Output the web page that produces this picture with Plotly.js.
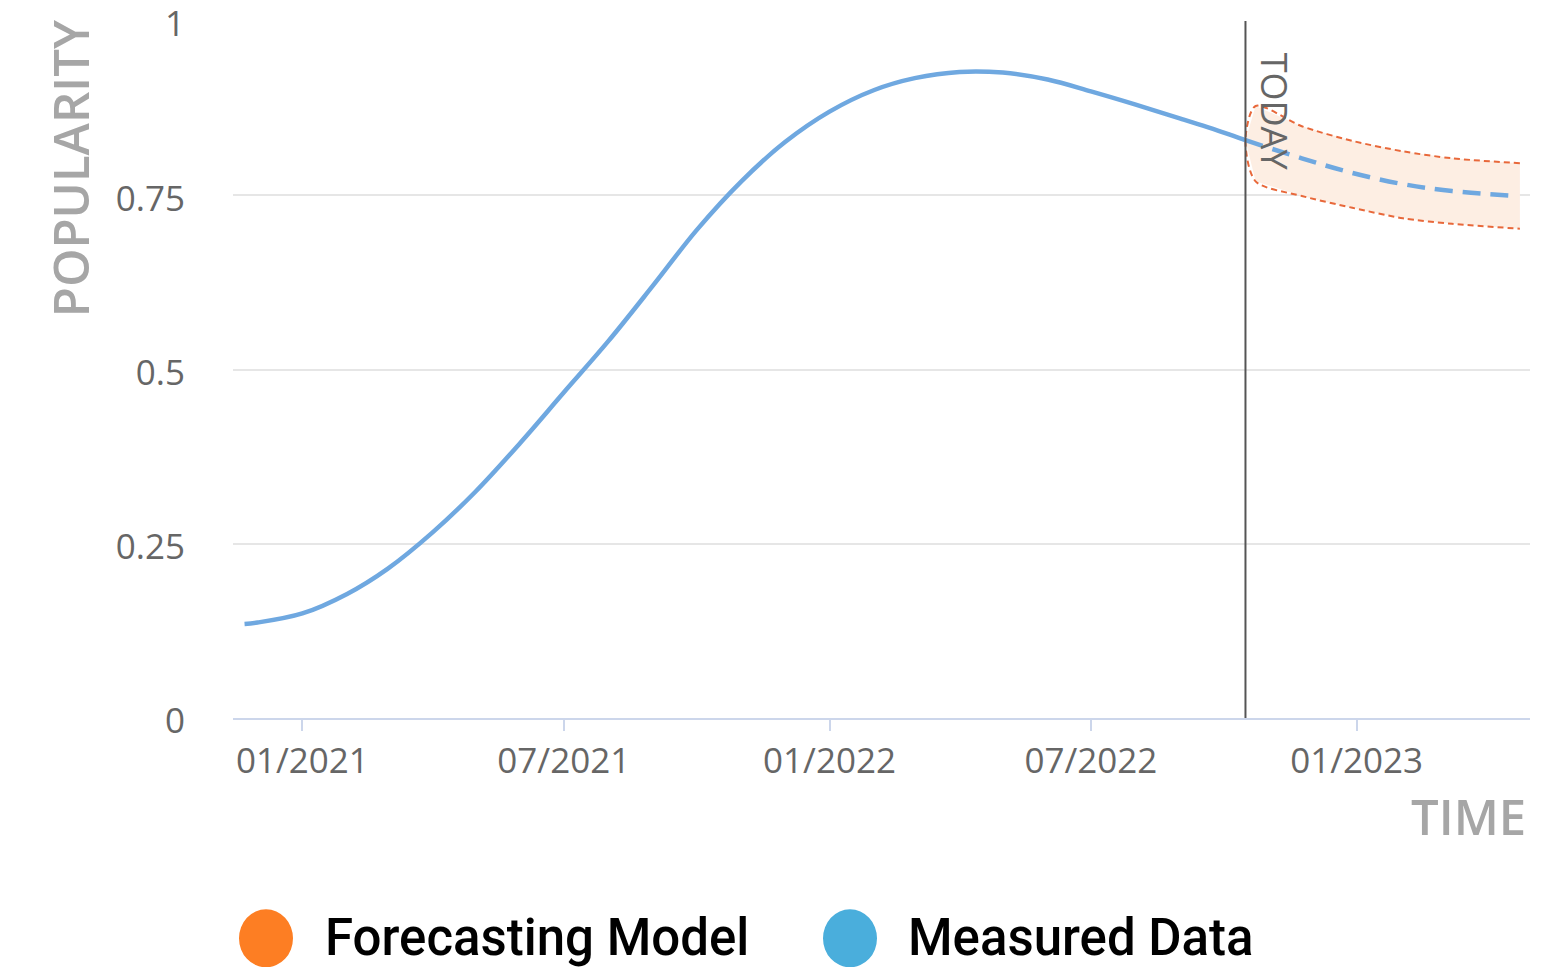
<!DOCTYPE html>
<html>
<head>
<meta charset="utf-8">
<script src="https://cdn.plot.ly/plotly-3.0.1.min.js"></script>
<style>html,body{margin:0;padding:0;background:#fff;}#chart{width:1563px;height:967px;}</style>
</head>
<body>
<div id="chart"></div>
<script>
// Measured data
const measuredDates = ['2020-11-22','2020-12-01','2021-01-01','2021-02-01','2021-03-01','2021-04-01','2021-05-01','2021-06-01','2021-07-01','2021-08-01','2021-09-01','2021-10-01','2021-11-01','2021-12-01','2022-01-01','2022-02-01','2022-03-01','2022-04-01','2022-05-01','2022-06-01','2022-07-01','2022-08-01','2022-09-01','2022-10-01','2022-10-16'];
const measuredValues = [0.135,0.137,0.150,0.178,0.214,0.266,0.325,0.395,0.467,0.541,0.621,0.700,0.770,0.826,0.870,0.901,0.918,0.927,0.926,0.916,0.899,0.880,0.860,0.840,0.829];

// Forecast
const forecastDates = ['2022-10-16','2022-11-24','2022-12-29','2023-02-02','2023-03-08','2023-04-22'];
const forecastValues = [0.829,0.803,0.782,0.766,0.756,0.749];
const bandDates = ['2022-10-23','2022-11-24','2022-12-29','2023-02-02','2023-03-08','2023-04-24'];
const bandUpper = [0.878,0.849,0.828,0.813,0.803,0.796];
const bandLower = [0.770,0.749,0.732,0.717,0.709,0.702];
const todayDate = '2022-10-16';

const tickVals = ['2021-01-01','2021-07-01','2022-01-01','2022-07-01','2023-01-01'];
const tickText = ['01/2021','07/2021','01/2022','07/2022','01/2023'];
const yTickVals = [0,0.25,0.5,0.75,1];
const yTickText = ['0','0.25','0.5','0.75','1'];

const legendNames = ['Forecasting Model','Measured Data'];
const legendColors = ['#fd7e23','#4aaedc'];

// band polygon (fill) and outline
const fillX = [todayDate].concat(bandDates, bandDates.slice().reverse());
const fillY = [forecastValues[0]].concat(bandUpper, bandLower.slice().reverse());
const outlineX = bandDates.slice().reverse().concat([todayDate], bandDates);
const outlineY = bandUpper.slice().reverse().concat([forecastValues[0]], bandLower);

const traces = [
  {x: fillX, y: fillY, type:'scatter', mode:'lines', fill:'toself', fillcolor:'#fdeee3', line:{width:0}, hoverinfo:'skip', showlegend:false},
  {x: outlineX, y: outlineY, type:'scatter', mode:'lines', line:{color:'#e8683a', width:2, dash:'6px,4px', shape:'spline', smoothing:0.8}, showlegend:false},
  {x: measuredDates, y: measuredValues, type:'scatter', mode:'lines', line:{color:'#6fa8e0', width:4.5, shape:'spline'}, showlegend:false},
  {x: forecastDates, y: forecastValues, type:'scatter', mode:'lines', line:{color:'#6fa8e0', width:4.5, dash:'18px,10px', shape:'spline'}, showlegend:false}
];

const W = 1297, L = 233, B = 718;
const H = 697;
function px(x){ return (x - L)/W; }
function py(y){ return (B - y)/H; }

const layout = {
  width:1563, height:967,
  margin:{l:233, r:33, t:20, b:249},
  paper_bgcolor:'#fff', plot_bgcolor:'#fff',
  showlegend:false,
  font:{family:'Open Sans, sans-serif', color:'#666'},
  xaxis:{
    type:'date', range:['2020-11-14','2023-05-01'],
    tickvals: tickVals, ticktext: tickText,
    showgrid:false, zeroline:false,
    showline:true, linecolor:'#ccd6eb', linewidth:2,
    ticks:'outside', ticklen:11, tickwidth:2, tickcolor:'#ccd6eb',
    tickfont:{size:35, color:'#666'}
  },
  yaxis:{
    range:[0,1.00143], tickvals:yTickVals, ticktext:yTickText,
    showgrid:true, gridcolor:'#e6e6e6', gridwidth:2, zeroline:false, showline:false,
    ticks:'outside', ticklen:40, tickcolor:'rgba(0,0,0,0)',
    ticklabelshift:3, ticklabeloverflow:'allow',
    tickfont:{size:35, color:'#666'}
  },
  shapes:[
    {type:'line', xref:'x', yref:'y', x0:todayDate, x1:todayDate, y0:0, y1:1, line:{color:'#555', width:2}},
    {type:'circle', xref:'paper', yref:'paper', xsizemode:'pixel', ysizemode:'pixel', xanchor:px(266), yanchor:py(938), x0:-27, x1:27, y0:-29, y1:29, fillcolor:legendColors[0], line:{width:0}},
    {type:'circle', xref:'paper', yref:'paper', xsizemode:'pixel', ysizemode:'pixel', xanchor:px(850), yanchor:py(938), x0:-27, x1:27, y0:-29, y1:29, fillcolor:legendColors[1], line:{width:0}}
  ],
  annotations:[
    {text:'POPULARITY', xref:'paper', yref:'paper', x:px(70), y:py(170), xanchor:'center', yanchor:'middle', textangle:-90, showarrow:false, font:{family:'Open Sans', size:49, color:'#a6a6a6', weight:600}},
    {text:'TIME', xref:'paper', yref:'paper', x:px(1468), y:py(816), xanchor:'center', yanchor:'middle', showarrow:false, font:{family:'Open Sans', size:49, color:'#a6a6a6', weight:600}},
    {text:'TODAY', xref:'x', yref:'paper', x:todayDate, xshift:29, y:py(113), xanchor:'center', yanchor:'middle', textangle:90, showarrow:false, font:{family:'Open Sans', size:36, color:'#666'}},
    {text:legendNames[0], xref:'paper', yref:'paper', x:px(323), y:py(937), xanchor:'left', yanchor:'middle', showarrow:false, font:{family:'Roboto', size:51, color:'#000', weight:500}},
    {text:legendNames[1], xref:'paper', yref:'paper', x:px(906), y:py(937), xanchor:'left', yanchor:'middle', showarrow:false, font:{family:'Roboto', size:51, color:'#000', weight:500}}
  ]
};

Plotly.newPlot('chart', traces, layout, {displayModeBar:false, staticPlot:true});
</script>
</body>
</html>
